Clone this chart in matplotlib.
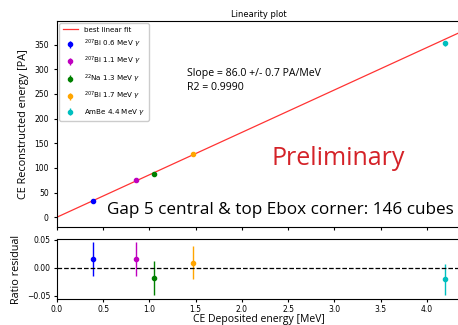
import numpy as np
import matplotlib.pyplot as plt

# data
labels = [r'$^{207}$Bi 0.6 MeV $\gamma$', r'$^{207}$Bi 1.1 MeV $\gamma$',
          r'$^{22}$Na 1.3 MeV $\gamma$', r'$^{207}$Bi 1.7 MeV $\gamma$',
          r'AmBe 4.4 MeV $\gamma$']
colors = ['b', 'm', 'g', 'orange', 'c']
edep = [0.39, 0.855, 1.045, 1.47, 4.2]
erec = [33, 74.5, 88, 128, 353]
erec_err = [2, 2, 2, 2, 5]
resid = [0.015, 0.015, -0.018, 0.009, -0.021]
resid_err = [0.03, 0.03, 0.03, 0.03, 0.028]
slope = 86.0
slope_err = 0.7
r2 = 0.9990

fig = plt.figure(figsize=(4.58, 3.25), dpi=100)
ax = fig.add_axes([0.1245, 0.3015, 0.88, 0.634])
ax2 = fig.add_axes([0.1245, 0.08, 0.88, 0.1846])

xfit = np.array([0, 4.4])
ax.plot(xfit, slope * xfit, color='r', lw=0.9, alpha=0.8, label='best linear fit')
for i in range(len(edep)):
    ax.errorbar(edep[i], erec[i], yerr=erec_err[i], fmt='o', ms=3, color=colors[i],
                elinewidth=1, label=labels[i])
    ax2.errorbar(edep[i], resid[i], yerr=resid_err[i], fmt='o', ms=3, color=colors[i],
                 elinewidth=1)

ax.set_xlim(0, 4.36)
ax.set_ylim(-20, 398)
ax.set_xticklabels([])
ax.tick_params(labelsize=5.5, length=2.5)
ax.set_ylabel('CE Reconstructed energy [PA]', fontsize=7.8, family='Open Sans')
ax.set_title('Linearity plot', fontsize=6, pad=3)
ax.legend(loc='upper left', fontsize=5.1, handlelength=2.2, borderpad=0.5,
          labelspacing=0.72, framealpha=1, borderaxespad=0.3)
ax.text(0.323, 0.665, 'Slope = %.1f +/- %.1f PA/MeV\nR2 = %.4f' % (slope, slope_err, r2),
        transform=ax.transAxes, fontsize=7.6, family='Open Sans', linespacing=1.35)
ax.text(0.532, 0.3, 'Preliminary', transform=ax.transAxes, fontsize=18,
        color='#d42228', family='Open Sans')
ax.text(0.123, 0.065, 'Gap 5 central & top Ebox corner: 146 cubes', transform=ax.transAxes,
        fontsize=12.3, family='Open Sans')

ax2.axhline(0, color='k', ls='--', lw=0.9)
ax2.set_xlim(0, 4.36)
ax2.set_ylim(-0.056, 0.051)
ax2.set_yticks([-0.05, 0, 0.05])
ax2.tick_params(labelsize=5.5, length=2.5, pad=2)
ax2.set_ylabel('Ratio residual', fontsize=7.8, family='Open Sans')
ax2.set_xlabel('CE Deposited energy [MeV]', fontsize=7.5, family='Open Sans')
ax2.xaxis.set_label_coords(0.5, -0.34)
ax2.xaxis.label.set_va('center')

fig.savefig('out.png', dpi=100)
